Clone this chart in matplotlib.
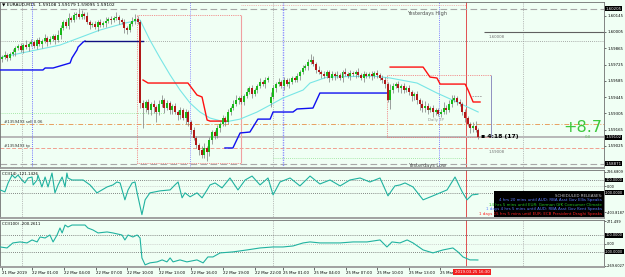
import numpy as np
import matplotlib

matplotlib.use("Agg")
import matplotlib.pyplot as plt
from matplotlib.patches import Rectangle

W, H, DPI = 625, 277, 100
BG = "#F0FFF4"
FS = 2.8

# ---------------- data ----------------
closes = [
    1.59789, 1.59807, 1.59781, 1.59815, 1.59832, 1.59867, 1.59884, 1.59850, 1.59892, 1.59875,
    1.59901, 1.59918, 1.59884, 1.59935, 1.59901, 1.59927, 1.59953, 1.59918, 1.59944, 1.59970,
    1.59935, 1.59978, 1.60038, 1.60090, 1.60056, 1.60124, 1.60107, 1.60150, 1.60159, 1.60133,
    1.60159, 1.60142, 1.60090, 1.60064, 1.60073, 1.60047, 1.60090, 1.60064, 1.60081, 1.60099,
    1.60116, 1.60107, 1.60124, 1.60133, 1.60107, 1.60090, 1.60038, 1.60021, 1.60073, 1.60099,
    1.60116, 1.60090, 1.59394, 1.59351, 1.59403, 1.59334, 1.59386, 1.59360, 1.59317, 1.59386,
    1.59420, 1.59351, 1.59394, 1.59334, 1.59368, 1.59317, 1.59291, 1.59334, 1.59265, 1.59317,
    1.59231, 1.59162, 1.59094, 1.59034, 1.58991, 1.58948, 1.59008, 1.58973, 1.59076, 1.59145,
    1.59111, 1.59179, 1.59214, 1.59265, 1.59231, 1.59317, 1.59351, 1.59386, 1.59420, 1.59437,
    1.59403, 1.59454, 1.59489, 1.59523, 1.59471, 1.59506, 1.59540, 1.59575, 1.59557, 1.59592,
    1.59609, 1.59446, 1.59523, 1.59557, 1.59575, 1.59540, 1.59592, 1.59557, 1.59575, 1.59609,
    1.59592, 1.59626, 1.59661, 1.59695, 1.59712, 1.59746, 1.59764, 1.59729, 1.59678, 1.59661,
    1.59643, 1.59626, 1.59661, 1.59609, 1.59643, 1.59626, 1.59635, 1.59609, 1.59661, 1.59643,
    1.59626, 1.59652, 1.59643, 1.59661, 1.59635, 1.59609, 1.59643, 1.59626, 1.59643, 1.59626,
    1.59652, 1.59635, 1.59609, 1.59592, 1.59557, 1.59420, 1.59506, 1.59540, 1.59557, 1.59523,
    1.59540, 1.59506, 1.59523, 1.59489, 1.59454, 1.59471, 1.59420, 1.59386, 1.59351, 1.59368,
    1.59334, 1.59351, 1.59317, 1.59334, 1.59300, 1.59317, 1.59351, 1.59334, 1.59386, 1.59420,
    1.59437, 1.59403, 1.59386, 1.59317, 1.59265, 1.59214, 1.59179, 1.59197, 1.59162, 1.59102,
]
upper_wick_pips = [
    2, 3, 2, 2, 3, 2, 2, 3, 2, 4, 2, 3, 2, 2, 3, 2, 3, 2, 3, 2,
    2, 4, 3, 2, 3, 4, 2, 3, 2, 5, 3, 2, 3, 2, 2, 3, 2, 3, 2, 3,
    2, 3, 2, 4, 2, 2, 3, 2, 2, 3, 4, 3, 2, 3, 2, 3, 2, 3, 2, 3,
    4, 2, 3, 2, 2, 3, 2, 3, 2, 3, 2, 2, 3, 2, 2, 3, 4, 2, 3, 2,
    2, 3, 2, 3, 2, 3, 2, 3, 4, 2, 3, 2, 3, 2, 3, 2, 2, 3, 2, 3,
    2, 4, 3, 2, 3, 2, 3, 2, 3, 2, 2, 3, 2, 3, 2, 3, 5, 3, 2, 3,
    2, 3, 2, 2, 3, 2, 3, 2, 2, 3, 2, 3, 2, 2, 3, 2, 3, 2, 2, 3,
    2, 3, 2, 3, 3, 2, 5, 3, 2, 3, 2, 3, 2, 3, 2, 2, 3, 2, 3, 4,
    3, 2, 3, 2, 2, 3, 5, 3, 3, 4, 3, 2, 3, 2, 3, 2, 2, 3, 4, 2,
]
lower_wick_pips = [
    3, 2, 3, 2, 2, 3, 2, 2, 3, 2, 3, 2, 2, 3, 2, 3, 2, 3, 2, 2,
    3, 2, 3, 2, 2, 3, 2, 2, 3, 2, 2, 3, 2, 3, 2, 2, 3, 2, 2, 3,
    2, 3, 2, 2, 3, 2, 4, 3, 2, 2, 3, 2, 4, 17, 3, 3, 4, 5, 9, 3,
    3, 4, 2, 3, 3, 2, 4, 3, 2, 5, 3, 3, 2, 3, 4, 3, 3, 8, 3, 3,
    3, 2, 3, 2, 3, 2, 3, 2, 2, 3, 2, 3, 2, 2, 3, 2, 3, 2, 2, 3,
    2, 3, 2, 3, 2, 2, 3, 2, 3, 2, 2, 2, 3, 2, 2, 3, 2, 2, 3, 2,
    3, 2, 2, 3, 2, 3, 2, 2, 3, 2, 2, 3, 2, 3, 2, 2, 3, 2, 2, 3,
    2, 3, 2, 3, 3, 2, 8, 3, 2, 3, 4, 3, 2, 3, 4, 3, 3, 5, 3, 3,
    3, 2, 4, 3, 2, 3, 2, 3, 2, 3, 2, 3, 2, 3, 3, 2, 4, 3, 2, 2,
]
first_open = 1.59775
monday_bar = 101
monday_open = 1.59394

ma_idx = [0, 21.8, 36.8, 46.2, 51.9, 55.6, 59.4, 63.2, 66.9, 70.7, 74.4, 78.2, 83.8,
          89.5, 95.9, 100.8, 105.6, 113.2, 115.8, 122.2, 139.5, 145.9, 156.0, 163.5, 171.0, 179.0]
ma_price = [1.59789, 1.59892, 1.60021, 1.60081, 1.60107, 1.59935, 1.59781, 1.59635, 1.59506,
            1.59394, 1.59317, 1.59265, 1.59231, 1.59256, 1.59317, 1.59377, 1.59437, 1.59506,
            1.59566, 1.59617, 1.59626, 1.59609, 1.59566, 1.59480, 1.59403, 1.59317]

blue1_idx = [-0.75, 15.4, 16.2, 19.2, 25.6, 26.3, 28.2, 28.6, 30.5, 31.2]
blue1_price = [1.59678, 1.59678, 1.59695, 1.59695, 1.59738, 1.59781, 1.59850, 1.59875, 1.59918, 1.59927]
navy_idx = [31.2, 53.0]
navy_price = [1.59927, 1.59927]
blue2_idx = [83.8, 86.8, 89.5, 93.2, 96.2, 100.8, 101.9, 109.4, 110.9, 116.9, 119.5, 145.9]
blue2_price = [1.59008, 1.59008, 1.59137, 1.59145, 1.59256, 1.59256, 1.59317, 1.59317,
               1.59343, 1.59351, 1.59480, 1.59480]

red1_idx = [53.0, 54.9, 69.9, 73.3, 75.2, 77.1, 78.2, 84.6]
red1_price = [1.59592, 1.59566, 1.59566, 1.59463, 1.59446, 1.59248, 1.59239, 1.59239]
red2_idx = [145.9, 158.3, 160.9, 163.5, 164.7, 174.1, 175.2, 177.1, 179.7]
red2_price = [1.59703, 1.59703, 1.59617, 1.59609, 1.59557, 1.59557, 1.59506, 1.59403, 1.59403]

cci14_idx = [-0.7, 1.1, 2.3, 3.8, 4.9, 6.0, 7.5, 8.6, 9.8, 11.3, 11.7, 13.2, 13.5, 15.0, 16.2,
             17.3, 18.8, 19.9, 21.1, 22.6, 23.7, 24.4, 24.8, 26.3, 30.5, 33.1, 35.7, 37.6, 39.5,
             41.7, 43.2, 44.4, 46.2, 47.4, 48.9, 50.0, 50.8, 52.6, 53.8, 55.6, 59.4, 63.2, 65.0,
             66.2, 67.7, 68.8, 70.7, 73.3, 75.2, 77.1, 78.2, 80.1, 82.7, 85.7, 88.7, 91.4, 94.0,
             97.0, 100.0, 101.9, 104.5, 108.3, 112.0, 115.8, 119.5, 123.3, 127.1, 130.8, 134.6,
             138.3, 142.1, 145.1, 147.7, 149.6, 151.5, 154.5, 158.3, 162.0, 167.3, 170.3, 173.0,
             174.8, 176.7, 178.9]
cci14_val = [-54, -85, 54, 177, 131, 177, 100, 54, 131, 146, 23, 100, 177, -8, 146,
             -8, 208, -100, 23, 146, -8, 208, 131, 100, 100, 23, -100, -54, -8,
             23, 69, 54, -208, -54, 54, 69, -100, -438, -208, -100, -69, -54, 23,
             69, -177, -100, -161, -100, -177, -54, 23, 54, -23, 131, -54, 100, 161,
             23, 131, -131, 69, 131, 8, 161, 38, 100, 8, 100, 131,
             69, 131, -146, 8, 23, 54, -8, -208, -146, -54, 146, -85,
             -208, -131, -121]

cci100_idx = [-0.7, 1.9, 4.1, 6.8, 9.4, 11.3, 13.2, 14.3, 16.2, 18.0, 19.2, 20.7, 21.8, 22.6,
              23.7, 24.8, 26.3, 28.6, 31.2, 32.3, 34.2, 36.1, 39.5, 41.7, 45.1, 46.2, 47.4,
              49.2, 50.8, 51.9, 52.6, 53.8, 55.6, 58.3, 60.2, 62.0, 63.2, 64.3, 66.9, 69.5,
              73.3, 75.6, 77.4, 79.3, 82.0, 86.8, 92.1, 97.0, 101.9, 105.6, 109.4, 113.2,
              115.8, 119.5, 122.2, 127.1, 132.0, 137.2, 142.1, 144.7, 146.6, 149.6, 152.3,
              154.5, 158.3, 162.0, 165.8, 169.5, 171.4, 173.3, 175.9, 177.8, 178.9]
cci100_val = [-42, -54, 7, 19, 7, 43, 19, 79, 67, 103, 19, 103, 188, 128,
              224, 200, 224, 224, 224, 188, 164, 128, 140, 128, 103, 43, 103,
              79, 103, 67, -175, -259, -235, -223, -199, -223, -175, -223, -199, -223,
              -199, -235, -163, -163, -114, -102, -78, -54, -42, -42, -30, 7,
              19, 7, 7, 7, 19, 19, 43, -42, 19, 7, 43,
              7, -78, -114, -78, -54, -102, -163, -199, -199, -200]

price_ticks = [1.60145, 1.60005, 1.59865, 1.59725, 1.59585, 1.59445, 1.59305, 1.59165, 1.59025]
yesterday_high = 1.60205
yesterday_low = 1.58871
bid = 1.59102
order_open = 1.59214
order_tp = 1.59008
level_160008 = 1.60008
dotted_level = 1.59927

time_labels = ["21 Mar 2019", "22 Mar 01:00", "22 Mar 04:00", "22 Mar 07:00", "22 Mar 10:00",
               "22 Mar 13:00", "22 Mar 16:00", "22 Mar 19:00", "22 Mar 22:00", "25 Mar 01:00",
               "25 Mar 04:00", "25 Mar 07:00", "25 Mar 10:00", "25 Mar 13:00", "25 Mar 16:00"]
time_pos = [0, 11.3, 23.3, 35.3, 47.0, 59.0, 71.0, 83.0, 95.1, 105.6, 117.3, 129.3, 141.0, 153.0, 164.7]

releases = [
    ("SCHEDULED RELEASES:", "#C8C8C8"),
    ("4 hrs 20 mins until AUD: RBA Asst Gov Ellis Speaks", "#5A7CFF"),
    ("14 hrs 5 mins until EUR: German GfK Consumer Climate", "#22C022"),
    ("1 days 4 hrs 5 mins until AUD: RBA Asst Gov Kent Speaks", "#5A7CFF"),
    ("1 days 15 hrs 5 mins until EUR: ECB President Draghi Speaks", "#FF2020"),
]

# ---------------- layout helpers ----------------
def fig_rect(x0, y0, x1, y1):
    return [x0 / W, 1 - y1 / H, (x1 - x0) / W, (y1 - y0) / H]


def fx(x):
    return x / W


def fy(y):
    return 1 - y / H


fig = plt.figure(figsize=(W / DPI, H / DPI), dpi=DPI, facecolor=BG)
ax = fig.add_axes(fig_rect(0, 2, 604, 168))
ax1 = fig.add_axes(fig_rect(0, 170, 604, 218), sharex=ax)
ax2 = fig.add_axes(fig_rect(0, 220, 604, 267), sharex=ax)

for a in (ax, ax1, ax2):
    a.set_facecolor(BG)
    a.yaxis.tick_right()
    a.tick_params(axis="y", labelsize=FS, length=1.5, width=0.4, pad=0.8, colors="black")
    for s in a.spines.values():
        s.set_color("#707070")
        s.set_linewidth(0.6)
    a.spines["bottom"].set_color("#9A9A9A")
    a.spines["bottom"].set_linewidth(1.3)
    # dotted verticals shared by all panels
    for xv in (7.5, 101.9, 195.9):
        a.axvline(xv, color="#A8A8A8", lw=0.6, ls=(0, (1, 1.2)), zorder=1)
    a.axvline(174.4, color="#E05050", lw=0.7, zorder=1)

ax1.tick_params(axis="y", labelsize=2.55, pad=0.5)
ax2.tick_params(axis="y", labelsize=2.55, pad=0.5)

ax.set_xlim(-0.75, 226.3)
ax.tick_params(axis="x", bottom=False, labelbottom=False)
ax1.tick_params(axis="x", bottom=False, labelbottom=False)

# ---------------- main panel ----------------
ax.set_ylim(1.58836, 1.60262)
ax.set_yticks(price_ticks)
ax.set_yticklabels([f"{p:.5f}" for p in price_ticks])

# horizontal levels
ax.axhline(yesterday_high, color="#A8A8A8", lw=0.8, ls=(0, (6, 3)), zorder=1)
ax.axhline(yesterday_low, color="#A8A8A8", lw=0.8, ls=(0, (6, 3)), zorder=1)
ax.axhline(dotted_level, color="#909090", lw=0.6, ls=(0, (1, 1.5)), zorder=1)
ax.axhline(order_open, color="#E8A060", lw=0.7, ls=(0, (5, 2, 1, 2)), zorder=1)
ax.axhline(order_tp, color="#F0A090", lw=0.7, ls=(0, (4, 2)), zorder=1)
ax.axhline(bid, color="#B8B8B8", lw=1.4, zorder=1)
ax.hlines(level_160008, 181.2, 226.3, color="#606060", lw=0.8, zorder=1)
ax.hlines(1.59308, -0.75, 61, color="#90E090", lw=0.6, ls=(0, (1, 1.5)), zorder=1)
ax.hlines(1.58848, -0.75, 101.9, color="#90E090", lw=0.6, ls=(0, (1, 1.5)), zorder=1)
ax.hlines(1.58922, 101.9, 174.4, color="#90E090", lw=0.6, ls=(0, (1, 1.5)), zorder=1)
ax.hlines(1.59453, 176.5, 180.5, color="#A0A0A0", lw=0.6, ls=(0, (2, 1)), zorder=1)

# session / marker verticals (main panel only)
ax.axvline(11.3, color="#7070FF", lw=0.7, ls=(0, (1, 1.2)), zorder=1)
ax.axvline(70.7, color="#9090FF", lw=0.7, ls=(0, (1, 1.2)), zorder=1)
ax.axvline(105.6, color="#9090FF", lw=1.0, ls=(0, (1, 0.8)), zorder=1)
ax.axvline(164.3, color="#8080FF", lw=0.7, ls=(0, (1, 1.2)), zorder=1)

# rectangles
ax.vlines(50.8, 1.58879, 1.60154, color="#F07070", lw=0.6, ls=(0, (1, 1.2)), zorder=1)
ax.hlines(1.60154, 50.8, 89.8, color="#F07070", lw=0.6, ls=(0, (1, 1.2)), zorder=1)
ax.hlines(1.58879, 50.8, 89.8, color="#F07070", lw=0.6, ls=(0, (1, 1.2)), zorder=1)
ax.vlines(89.8, 1.58879, 1.60154, color="#F0A0A0", lw=0.8, zorder=1)
ax.hlines(1.60235, 89.8, 174.4, color="#F0A0A0", lw=0.6, ls=(0, (1, 1.2)), zorder=1)
ax.vlines(144.7, 1.59102, 1.59635, color="#F07070", lw=0.6, ls=(0, (1, 1.2)), zorder=1)
ax.hlines(1.59635, 144.7, 183.8, color="#F07070", lw=0.6, ls=(0, (1, 1.2)), zorder=1)
ax.hlines(1.59102, 144.7, 183.8, color="#F07070", lw=0.6, ls=(0, (1, 1.2)), zorder=2)
ax.vlines(183.8, 1.59102, 1.59635, color="#9090C0", lw=0.7, zorder=1)

# indicator lines
ax.plot(ma_idx, ma_price, color="#78E6E6", lw=0.8, zorder=2)
ax.plot(blue1_idx, blue1_price, color="#1010F0", lw=1.0, zorder=3)
ax.plot(navy_idx, navy_price, color="#101080", lw=1.0, zorder=3)
ax.plot(blue2_idx, blue2_price, color="#1010F0", lw=1.0, zorder=3)
ax.plot(red1_idx, red1_price, color="#FF1010", lw=1.0, zorder=3)
ax.plot(red2_idx, red2_price, color="#FF1010", lw=1.0, zorder=3)

# candles
c = np.array(closes)
o = np.array([first_open] + closes[:-1])
o[monday_bar] = monday_open
idx = np.arange(len(c))
hi = np.maximum(o, c) + np.array(upper_wick_pips) / 1e4
lo = np.minimum(o, c) - np.array(lower_wick_pips) / 1e4
ax.vlines(idx, lo, hi, color="#7A7A7A", lw=0.5, zorder=4)
body = np.where(np.abs(c - o) < 0.00004, 0.00004, c - o)
cols = np.where(c >= o, "#18B818", "#B01818")
ax.bar(idx, body, bottom=o, width=0.75, color=cols, edgecolor="none", zorder=5)

# right-axis highlighted values
def boxed(a, val, text, size=FS):
    a.text(1.002, val, text, transform=a.get_yaxis_transform(), fontsize=size, color="white",
           va="center", ha="left", clip_on=False,
           bbox=dict(boxstyle="square,pad=0.12", fc="black", ec="none"))


boxed(ax, yesterday_high, "1.60205")
boxed(ax, bid, "1.59102")
boxed(ax, yesterday_low, "1.58871")

# ---------------- CCI(14) ----------------
ax1.set_ylim(-490, 255)
ax1.set_yticks([226.6809, 0, -403.8187])
ax1.set_yticklabels(["226.6809", "0.00", "-403.8187"])
ax1.axhline(100, color="#606060", lw=0.6, ls=(0, (1, 1.5)))
ax1.axhline(-100, color="#606060", lw=0.6, ls=(0, (1, 1.5)))
ax1.axhline(0, color="#C0C0C0", lw=0.6, ls=(0, (1, 1.5)))
ax1.plot(cci14_idx, cci14_val, color="#20B2A0", lw=0.8, zorder=3)
boxed(ax1, 100, "100.0000", 2.55)
boxed(ax1, -100, "-100.0000", 2.55)

# ---------------- CCI(100) ----------------
ax2.set_ylim(-285, 285)
ax2.set_yticks([271.499, 0, -269.6027])
ax2.set_yticklabels(["271.499", "0.00", "-269.6027"])
ax2.axhline(100, color="#606060", lw=0.6, ls=(0, (1, 1.5)))
ax2.axhline(-100, color="#606060", lw=0.6, ls=(0, (1, 1.5)))
ax2.axhline(0, color="#C0C0C0", lw=0.6, ls=(0, (1, 1.5)))
ax2.plot(cci100_idx, cci100_val, color="#20B2A0", lw=0.8, zorder=3)
boxed(ax2, 100, "100.0000", 2.55)
boxed(ax2, -100, "-100.0000", 2.55)

ax2.set_xticks(time_pos)
ax2.set_xticklabels(time_labels, ha="left")
ax2.tick_params(axis="x", labelsize=FS, length=2, width=0.4, pad=1)

# ---------------- texts ----------------
fig.text(fx(2), fy(5), "\u25BC EURAUD,M15  1.59108 1.59179 1.59095 1.59102", fontsize=3.2, va="center")
fig.text(fx(407), fy(14), "Yesterdays High", fontsize=3.6, color="#505050", va="center")
fig.text(fx(408), fy(166), "Yesterdays Low", fontsize=3.6, color="#505050", va="center")
fig.text(fx(489), fy(37), "1.60008", fontsize=FS, color="#707070", va="center")
fig.text(fx(489), fy(152), "1.59008", fontsize=FS, color="#707070", va="center")
fig.text(fx(4), fy(122), "#1359493 sell 0.06", fontsize=FS, color="#303030", va="center")
fig.text(fx(4), fy(146), "#1359493 tp", fontsize=FS, color="#303030", va="center")
fig.text(fx(428), fy(120), "Daily TP", fontsize=FS, color="#909090", va="center")
fig.text(fx(481), fy(137), "\u25AA 4:18 (17)", fontsize=4.4, color="black", weight="bold", va="center")
fig.text(fx(583), fy(127), "+8.7", fontsize=11.5, color="#3CC83C", va="center", ha="center")
fig.text(fx(588), fy(137.5), "0.0", fontsize=FS, color="#60C060", va="center", ha="center")
fig.text(fx(2), fy(174), "CCI(14) -121.1426", fontsize=FS, va="center")
fig.text(fx(2), fy(224), "CCI(100) -200.2611", fontsize=FS, va="center")

# scheduled releases box
fig.patches.append(Rectangle((fx(494), fy(217)), (604 - 494) / W, 26 / H,
                             transform=fig.transFigure, fc="black", ec="none", zorder=5))
for k, (txt, col) in enumerate(releases):
    fig.text(fx(602), fy(196 + 4.4 * k), txt, fontsize=2.9, color=col, ha="right",
             va="center", zorder=6)

# current-time box on the time axis
fig.text(fx(472), fy(272), "2019.03.25 16:30", fontsize=FS, color="white", ha="center",
         va="center", zorder=6, bbox=dict(boxstyle="square,pad=0.3", fc="#F02020", ec="none"))

fig.savefig("out.png", dpi=DPI, facecolor=BG)
